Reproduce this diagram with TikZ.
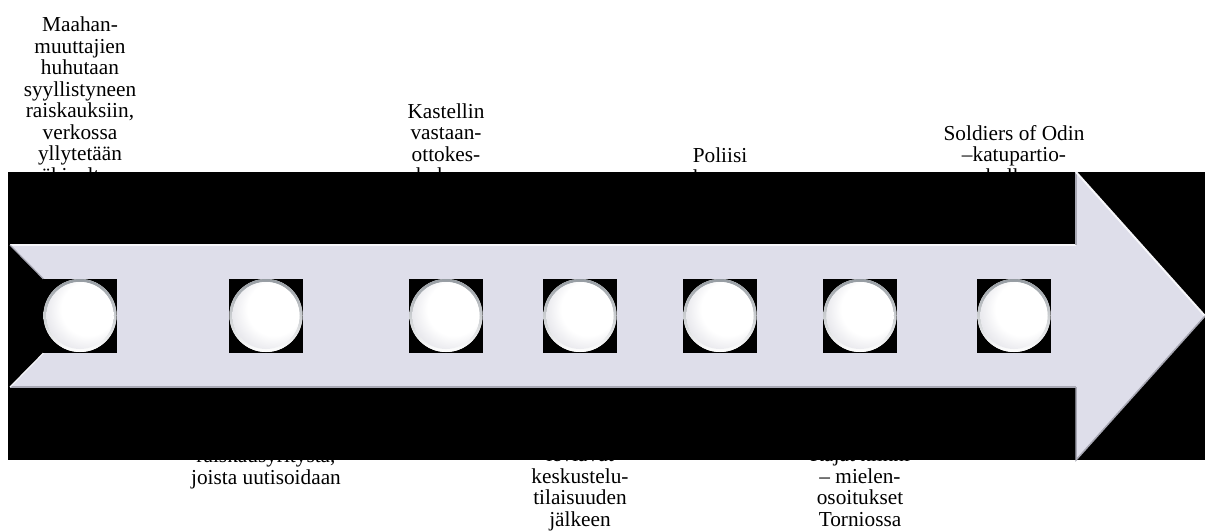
\documentclass[tikz,border=0pt]{standalone}
\usepackage{fontspec}
\setmainfont{Liberation Serif}
\usetikzlibrary{calc}
\definecolor{arrowfill}{RGB}{222,222,234}
\definecolor{edgelight}{RGB}{246,246,250}
\definecolor{edgedark}{RGB}{168,168,180}
\definecolor{rimdark}{RGB}{150,156,162}
\definecolor{faceshade}{RGB}{184,184,198}
\pgfdeclareradialshading{knobface}{\pgfpoint{10bp}{8bp}}{color(0bp)=(white); color(20bp)=(white); color(52bp)=(faceshade)}
\newcommand\mkLabelLines[4]{%
  \foreach \t [count=\i] in {#4} {%
    \node[lbl] (#1-\i) at (#2, {531-#3-21.5*(\i-1)}) {\t};%
  }%
}
\begin{document}
\begin{tikzpicture}[x=1pt,y=1pt,
  lbl/.style={inner sep=0pt, anchor=base, font=\fontsize{21.3}{21.5}\selectfont},
  sq/.style={fill=black, minimum size=74pt, inner sep=0pt, draw=none}]
\fill[white] (0,0) rectangle (1205,531);
\useasboundingbox (0,0) rectangle (1205,531);
% labels (drawn first, partly covered by the black band)
\mkLabelLines{ta}{80}{31.7}{Maahan-, muuttajien, huhutaan, syyllistyneen, {raiskauksiin,}, verkossa, yllytetään, väkivaltaan}
\mkLabelLines{tb}{446}{118.5}{Kastellin, vastaan-, ottokes-, kuksen}
\mkLabelLines{tc}{720}{163}{Poliisi, kertoo}
\mkLabelLines{td}{1014}{140.5}{Soldiers of Odin, –katupartio-, kulkee}
\mkLabelLines{ba}{266}{462.5}{{raiskausyritystä,}, joista uutisoidaan}
\mkLabelLines{bb}{580}{461.5}{leviävät, keskustelu-, tilaisuuden, jälkeen}
\mkLabelLines{bc}{860}{461.5}{Rajat kiinni, – mielen-, osoitukset, Torniossa}
% black band
\fill[black] (8,71) rectangle (1205,359);
% arrow
\fill[arrowfill] (10,286) -- (1076,286) -- (1076,359) -- (1205,215) -- (1076,71) -- (1076,144) -- (10,144) -- (80,215) -- cycle;
\draw[edgelight, line width=1.5pt] (10,286) -- (1076,286);
\draw[edgedark, line width=1.2pt] (1076,286) -- (1076,359);
\draw[edgelight, line width=2pt] (1076,359) -- (1205,215);
\draw[edgedark, line width=1.5pt] (1205,215) -- (1076,71) -- (1076,144);
\draw[edgedark, line width=1.5pt] (1076,144) -- (10,144);
\draw[edgedark, line width=1.2pt] (10,286) -- (80,215);
\draw[edgelight, line width=1.2pt] (80,215) -- (10,144);
% circles
\foreach \n/\cx in {1/80, 2/266, 3/446, 4/580, 5/720, 6/860, 7/1014} {
  \node[sq] (s\n) at (\cx,215.5) {};
  \fill[white] (s\n.center) circle (36.5);
  \shade[even odd rule, top color=rimdark, bottom color=white] (s\n.center) circle (36.5) (s\n.center) circle (33.5);
  \shade[shading=knobface] (s\n.center) circle (33.5);
}
\end{tikzpicture}
\end{document}
